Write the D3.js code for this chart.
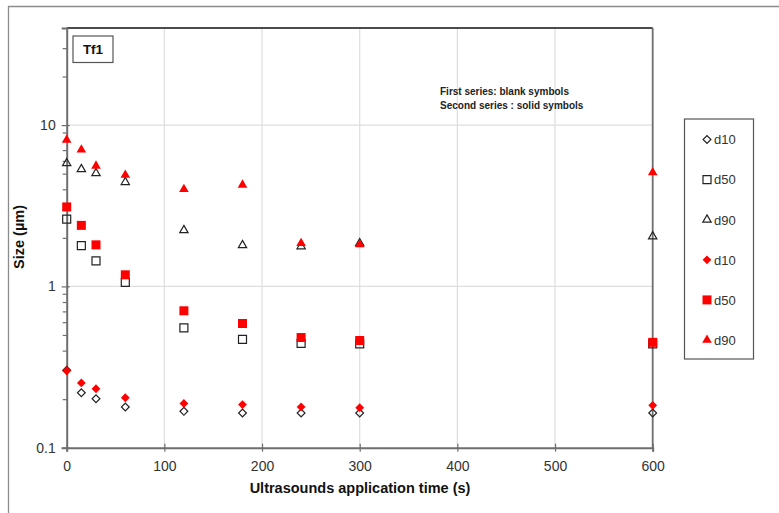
<!DOCTYPE html>
<html>
<head>
<meta charset="utf-8">
<script src="https://cdn.jsdelivr.net/npm/d3@7"></script>
<style>
  html, body { margin: 0; padding: 0; background: #fff; }
  svg { display: block; }
  text { font-family: "Liberation Sans", Arial, sans-serif; }
</style>
</head>
<body>
<svg id="chart" width="779" height="513"></svg>
<script>
// Sonication time (s)
const times = [0, 15, 30, 60, 120, 180, 240, 300, 600];

// First series (blank symbols), particle size in µm
const d10First = [0.302, 0.219, 0.201, 0.179, 0.168, 0.164, 0.164, 0.164, 0.164];
const d50First = [2.61, 1.79, 1.44, 1.06, 0.554, 0.469, 0.443, 0.44, 0.44];
const d90First = [5.8, 5.33, 5.03, 4.43, 2.23, 1.80, 1.77, 1.85, 2.04];

// Second series (solid symbols), particle size in µm
const d10Second = [0.300, 0.252, 0.232, 0.204, 0.188, 0.185, 0.179, 0.177, 0.183];
const d50Second = [3.11, 2.39, 1.81, 1.18, 0.706, 0.589, 0.482, 0.462, 0.45];
const d90Second = [8.1, 7.03, 5.59, 4.91, 4.0, 4.26, 1.85, 1.82, 5.08];

const xTicks = [0, 100, 200, 300, 400, 500, 600];
const yMajorTicks = [0.1, 1, 10];
const yMinorTicks = [0.2, 0.3, 0.4, 0.5, 0.6, 0.7, 0.8, 0.9, 2, 3, 4, 5, 6, 7, 8, 9, 20, 30];
const legendLabels = ["d10", "d50", "d90", "d10", "d50", "d90"];

const svg = d3.select("#chart");
const L = 66.7, R = 652.7, T = 28, B = 447.7;

const x = d3.scaleLinear().domain([0, 600]).range([L, R]);
const y = d3.scaleLog().domain([0.1, 40]).range([B, T]);

// outer frame (top and left edges)
svg.append("path")
  .attr("d", `M8.5,513 V6.5 H779`)
  .attr("fill", "none").attr("stroke", "#8c8c8c").attr("stroke-width", 1.3);

// gridlines
const grid = svg.append("g").attr("stroke", "#dedede").attr("stroke-width", 1.2);
grid.selectAll("line.v").data(xTicks.filter(t => t > 0 && t < 600)).join("line")
  .attr("x1", d => x(d)).attr("x2", d => x(d)).attr("y1", T).attr("y2", B);
grid.selectAll("line.h").data([1, 10]).join("line")
  .attr("x1", L).attr("x2", R).attr("y1", d => y(d)).attr("y2", d => y(d));

// top border of the plot area
svg.append("line").attr("x1", L).attr("x2", R).attr("y1", T).attr("y2", T)
  .attr("stroke", "#111").attr("stroke-width", 1.5);
// right border
svg.append("line").attr("x1", R).attr("x2", R).attr("y1", T).attr("y2", B)
  .attr("stroke", "#6e6e6e").attr("stroke-width", 1.8);

// x axis
const xAxis = svg.append("g").attr("transform", `translate(0,${B})`)
  .call(d3.axisBottom(x).tickValues(xTicks).tickSize(4).tickPadding(9).tickFormat(d3.format("d")));
xAxis.select(".domain").attr("stroke", "#6e6e6e").attr("stroke-width", 2);
xAxis.selectAll(".tick line").attr("y1", -4).attr("stroke", "#6e6e6e").attr("stroke-width", 1.2);
xAxis.selectAll(".tick text").attr("font-size", 14).attr("fill", "#333")
  .attr("font-family", "Liberation Sans, Arial, sans-serif");

// y axis (major)
const yAxis = svg.append("g").attr("transform", `translate(${L},0)`)
  .call(d3.axisLeft(y).tickValues(yMajorTicks).tickSize(5).tickPadding(6)
    .tickFormat(d => d < 1 ? d3.format(".1f")(d) : d3.format("d")(d)));
yAxis.select(".domain").attr("stroke", "#6e6e6e").attr("stroke-width", 2);
yAxis.selectAll(".tick line").attr("x1", 3).attr("stroke", "#6e6e6e").attr("stroke-width", 1.2);
yAxis.selectAll(".tick text").attr("font-size", 14).attr("fill", "#333")
  .attr("font-family", "Liberation Sans, Arial, sans-serif");

// y axis minor ticks
const yMinor = svg.append("g").attr("transform", `translate(${L},0)`)
  .call(d3.axisLeft(y).tickValues(yMinorTicks).tickSize(4).tickFormat(""));
yMinor.select(".domain").remove();
yMinor.selectAll(".tick line").attr("stroke", "#6e6e6e").attr("stroke-width", 1.2);

// axis titles
svg.append("text").attr("x", 360).attr("y", 492.5).attr("text-anchor", "middle")
  .attr("font-size", 14.5).attr("font-weight", "bold").attr("fill", "#111")
  .text("Ultrasounds application time (s)");
svg.append("text").attr("transform", "translate(24,237) rotate(-90)").attr("text-anchor", "middle")
  .attr("font-size", 14.5).attr("font-weight", "bold").attr("fill", "#111")
  .text("Size (µm)");

// sample label box
svg.append("rect").attr("x", 73).attr("y", 36).attr("width", 40).attr("height", 26.5)
  .attr("fill", "#fff").attr("stroke", "#555").attr("stroke-width", 1.2);
svg.append("text").attr("x", 93).attr("y", 54).attr("text-anchor", "middle")
  .attr("font-size", 13.5).attr("font-weight", "bold").attr("fill", "#111").text("Tf1");

// note on symbol styles
const note = svg.append("g").attr("font-family", "Open Sans, sans-serif")
  .attr("font-size", 10).attr("font-weight", 600).attr("fill", "#222");
note.append("text").attr("x", 440).attr("y", 94.5).text("First series: blank symbols");
note.append("text").attr("x", 440).attr("y", 109).text("Second series : solid symbols");

// marker definitions
const diamond = s => d3.symbol().type(d3.symbolSquare).size(s * s)();
const styles = [
  { vals: d10First,  path: diamond(5.5),                                         rot: 45, fill: "none", stroke: "#222" },
  { vals: d50First,  path: d3.symbol().type(d3.symbolSquare).size(64)(),         rot: 0,  fill: "none", stroke: "#222" },
  { vals: d90First,  path: d3.symbol().type(d3.symbolTriangle).size(30)(),       rot: 0,  fill: "none", stroke: "#222" },
  { vals: d10Second, path: diamond(6.2),                                         rot: 45, fill: "#ff0000", stroke: "none" },
  { vals: d50Second, path: d3.symbol().type(d3.symbolSquare).size(81)(),         rot: 0,  fill: "#ff0000", stroke: "none" },
  { vals: d90Second, path: d3.symbol().type(d3.symbolTriangle).size(40)(),       rot: 0,  fill: "#ff0000", stroke: "none" }
];

const marks = svg.append("g");
styles.forEach(st => {
  marks.append("g").selectAll("path")
    .data(times.map((t, i) => [t, st.vals[i]]))
    .join("path")
    .attr("d", st.path)
    .attr("transform", d => `translate(${x(d[0])},${y(d[1])}) rotate(${st.rot})`)
    .attr("fill", st.fill).attr("stroke", st.stroke).attr("stroke-width", 1.2);
});

// legend
const leg = svg.append("g");
leg.append("rect").attr("x", 684.5).attr("y", 119).attr("width", 69).attr("height", 240)
  .attr("fill", "#fff").attr("stroke", "#555").attr("stroke-width", 1.2);
styles.forEach((st, i) => {
  const cy = 139.5 + i * 40.1;
  leg.append("path").attr("d", st.path)
    .attr("transform", `translate(707,${cy}) rotate(${st.rot})`)
    .attr("fill", st.fill).attr("stroke", st.stroke).attr("stroke-width", 1.2);
  leg.append("text").attr("x", 714).attr("y", cy + 4.8)
    .attr("font-size", 13).attr("fill", "#333").text(legendLabels[i]);
});
</script>
</body>
</html>
